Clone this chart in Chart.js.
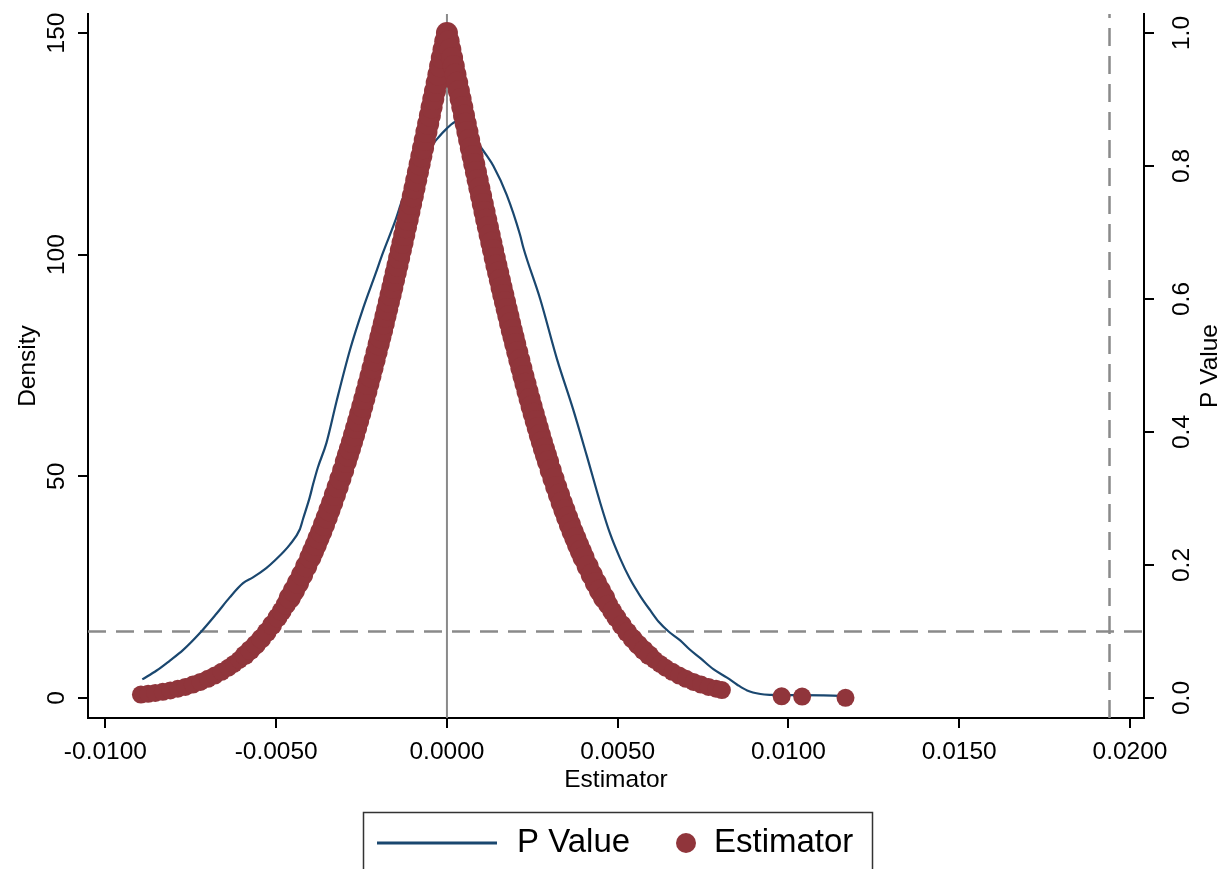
<!DOCTYPE html>
<html>
<head>
<meta charset="utf-8">
<script src="https://cdn.jsdelivr.net/npm/chart.js@4.4.1/dist/chart.umd.min.js"></script>
<style>
html,body{margin:0;padding:0;background:#fff;}
#wrap{width:1231px;height:869px;position:relative;}
</style>
</head>
<body>
<div id="wrap"><canvas id="c"></canvas></div>
<script>
// ---- tick labels ----
const xTicks = [-0.01, -0.005, 0, 0.005, 0.01, 0.015, 0.02];
const densityTicks = [0, 50, 100, 150];
const pTicks = [0, 0.2, 0.4, 0.6, 0.8, 1.0];

// ---- axis ranges ----
const xMin = -0.01051, xMax = 0.02041;
const dMin = -4.51, dMax = 154.29;
const pMin = -0.03007, pMax = 1.02860;

// ---- reference lines ----
const pThreshold = 0.1;
const refX = 0.0194;
const zeroX = 0;

// ---- "P Value" series (density curve, left axis) ----
const densX = [-0.00892,-0.00850,-0.00812,-0.00773,-0.00724,-0.00675,-0.00636,-0.00597,-0.00568,-0.00529,-0.00504,-0.00460,-0.00431,-0.00421,-0.00402,-0.00392,-0.00378,-0.00353,-0.00323,-0.00284,-0.00245,-0.00210,-0.00187,-0.00152,-0.00128,-0.00090,-0.00060,-0.00030,0.00000,0.00028,0.00060,0.00092,0.00115,0.00136,0.00175,0.00214,0.00224,0.00273,0.00322,0.00370,0.00410,0.00449,0.00478,0.00507,0.00535,0.00566,0.00595,0.00620,0.00649,0.00683,0.00710,0.00742,0.00780,0.00820,0.00850,0.00879,0.00918,0.00950,0.00985,0.01040,0.01100,0.01150,0.01172];
const densY = [4.2,6.2,8.4,10.8,14.6,19.0,22.7,25.9,27.2,29.3,31.0,34.6,38.0,40.5,45.2,48.2,52.0,57.5,67.0,78.5,88.0,95.5,100.5,107.5,113.0,119.5,123.0,126.0,128.5,130.0,128.5,125.0,122.5,120.0,113.5,104.5,101.5,90.0,76.5,65.0,54.5,44.0,37.0,31.5,27.0,23.0,19.8,17.2,15.0,13.0,11.0,9.0,6.5,4.6,3.0,1.7,0.9,0.7,0.65,0.65,0.6,0.5,0.4];

// ---- "Estimator" series (p-value of each estimate, right axis) ----
const estX = [
-0.00896,-0.00875,-0.00854,-0.00832,-0.00810,-0.00788,-0.00766,-0.00744,-0.00722,-0.00700,
-0.00680,-0.00660,-0.00640,-0.00624,-0.00608,-0.00592,-0.00576,-0.00560,-0.00544,-0.00528,
-0.00512,-0.00496,-0.00484,-0.00472,-0.00460,-0.00448,-0.00436,-0.00424,-0.00412,-0.00400,
-0.00392,-0.00384,-0.00376,-0.00368,-0.00360,-0.00352,-0.00344,-0.00336,-0.00328,-0.00320,
-0.00312,-0.00304,-0.00296,-0.00290,-0.00284,-0.00278,-0.00272,-0.00266,-0.00260,-0.00254,
-0.00248,-0.00242,-0.00236,-0.00230,-0.00224,-0.00218,-0.00212,-0.00206,-0.00200,-0.00195,
-0.00190,-0.00185,-0.00180,-0.00175,-0.00170,-0.00165,-0.00160,-0.00155,-0.00150,-0.00145,
-0.00140,-0.00135,-0.00130,-0.00125,-0.00120,-0.00115,-0.00110,-0.00105,-0.00100,-0.00095,
-0.00090,-0.00085,-0.00080,-0.00075,-0.00070,-0.00065,-0.00060,-0.00055,-0.00050,-0.00045,
-0.00040,-0.00035,-0.00030,-0.00025,-0.00020,-0.00015,-0.00010,-0.00005,0.00000,
0.00005,0.00010,0.00015,0.00020,0.00025,0.00030,0.00035,0.00040,0.00045,0.00050,
0.00055,0.00060,0.00065,0.00070,0.00075,0.00080,0.00085,0.00090,0.00095,0.00100,
0.00105,0.00110,0.00115,0.00120,0.00125,0.00130,0.00135,0.00140,0.00145,0.00150,
0.00155,0.00160,0.00165,0.00170,0.00175,0.00180,0.00185,0.00190,0.00195,0.00200,
0.00206,0.00212,0.00218,0.00224,0.00230,0.00236,0.00242,0.00248,0.00254,0.00260,
0.00266,0.00272,0.00278,0.00284,0.00290,0.00296,0.00304,0.00312,0.00320,0.00328,
0.00336,0.00344,0.00352,0.00360,0.00368,0.00376,0.00384,0.00392,0.00400,0.00412,
0.00424,0.00436,0.00448,0.00460,0.00472,0.00484,0.00496,0.00512,0.00528,0.00544,
0.00560,0.00576,0.00592,0.00608,0.00624,0.00640,0.00660,0.00680,0.00700,0.00722,
0.00744,0.00766,0.00788,0.00805,
0.00980,0.01040,0.01167];
const estP = [
0.0051,0.0063,0.0077,0.0093,0.0114,0.0139,0.0167,0.0202,0.0242,0.0288,
0.0337,0.0394,0.0455,0.0512,0.0574,0.0643,0.0719,0.0801,0.0891,0.0989,
0.1096,0.1211,0.1305,0.1404,0.1507,0.1615,0.1731,0.1853,0.1980,0.2113,
0.2207,0.2301,0.2401,0.2501,0.2607,0.2713,0.2825,0.2937,0.3055,0.3173,
0.3297,0.3421,0.3551,0.3649,0.3749,0.3851,0.3953,0.4060,0.4166,0.4274,
0.4385,0.4496,0.4610,0.4724,0.4839,0.4958,0.5078,0.5198,0.5321,0.5424,
0.5527,0.5633,0.5739,0.5845,0.5954,0.6062,0.6171,0.6282,0.6394,0.6505,
0.6618,0.6732,0.6846,0.6962,0.7078,0.7193,0.7310,0.7429,0.7547,0.7666,
0.7786,0.7906,0.8026,0.8148,0.8269,0.8391,0.8513,0.8636,0.8759,0.8882,
0.9006,0.9129,0.9253,0.9377,0.9502,0.9626,0.9751,0.9875,1.0000,
0.9875,0.9751,0.9626,0.9502,0.9377,0.9253,0.9129,0.9006,0.8882,0.8759,
0.8636,0.8513,0.8391,0.8269,0.8148,0.8026,0.7906,0.7786,0.7666,0.7547,
0.7429,0.7310,0.7193,0.7078,0.6962,0.6846,0.6732,0.6618,0.6505,0.6394,
0.6282,0.6171,0.6062,0.5954,0.5845,0.5739,0.5633,0.5527,0.5424,0.5321,
0.5198,0.5078,0.4958,0.4839,0.4724,0.4610,0.4496,0.4385,0.4274,0.4166,
0.4060,0.3953,0.3851,0.3749,0.3649,0.3551,0.3421,0.3297,0.3173,0.3055,
0.2937,0.2825,0.2713,0.2607,0.2501,0.2401,0.2301,0.2207,0.2113,0.1980,
0.1853,0.1731,0.1615,0.1507,0.1404,0.1305,0.1211,0.1096,0.0989,0.0891,
0.0801,0.0719,0.0643,0.0574,0.0512,0.0455,0.0394,0.0337,0.0288,0.0242,
0.0202,0.0167,0.0139,0.0119,
0.0025,0.0022,0.0003];

const FONT = '"Liberation Sans", Arial, Helvetica, sans-serif';
const NAVY = '#1a476f';
const MAROON = '#90353b';
const GRAY = '#8a8a8a';

Chart.defaults.font.family = FONT;
Chart.defaults.color = '#000';

const pts = (xs, ys) => xs.map((x, i) => ({x: x, y: ys[i]}));

const extras = {
  id: 'extras',
  afterDraw(chart) {
    const ctx = chart.ctx;
    const y1 = chart.scales.y1;
    // right axis title (reads bottom-to-top like the left one)
    ctx.save();
    ctx.fillStyle = '#000';
    ctx.font = '24.5px ' + FONT;
    ctx.textAlign = 'center';
    ctx.textBaseline = 'middle';
    ctx.translate(y1.right - 21, (y1.top + y1.bottom) / 2);
    ctx.rotate(-Math.PI / 2);
    ctx.fillText('P Value', 0, 0);
    ctx.restore();

    // legend box
    const ds = chart.data.datasets;
    ctx.save();
    ctx.strokeStyle = '#333';
    ctx.lineWidth = 1.5;
    ctx.strokeRect(363.5, 812.5, 509, 80);
    const cy = 843;
    ctx.strokeStyle = NAVY;
    ctx.lineWidth = 3;
    ctx.beginPath();
    ctx.moveTo(377, cy);
    ctx.lineTo(497, cy);
    ctx.stroke();
    ctx.fillStyle = '#000';
    ctx.font = '33px ' + FONT;
    ctx.textAlign = 'left';
    ctx.textBaseline = 'middle';
    ctx.fillText(ds[1].label, 517, cy);
    ctx.fillStyle = MAROON;
    ctx.beginPath();
    ctx.arc(686, cy, 10, 0, Math.PI * 2);
    ctx.fill();
    ctx.fillStyle = '#000';
    ctx.fillText(ds[0].label, 714, cy);
    ctx.restore();
  }
};

new Chart(document.getElementById('c'), {
  type: 'scatter',
  data: {
    datasets: [
      {
        label: 'Estimator',
        data: pts(estX, estP),
        xAxisID: 'x', yAxisID: 'y1',
        showLine: false,
        pointBackgroundColor: MAROON,
        pointBorderWidth: 0,
        pointRadius: (c) => { const p = c.raw ? c.raw.y : 0; return p > 0.15 ? 11 : (p > 0.06 ? 10 : 9); },
        order: 0
      },
      {
        label: 'P Value',
        data: pts(densX, densY),
        xAxisID: 'x', yAxisID: 'y',
        showLine: true,
        borderColor: NAVY,
        borderWidth: 2.2,
        pointRadius: 0,
        cubicInterpolationMode: 'monotone',
        order: 1
      },
      {
        label: 'zero',
        data: [{x: zeroX, y: pMin}, {x: zeroX, y: pMax}],
        xAxisID: 'x', yAxisID: 'y1',
        showLine: true, borderColor: GRAY, borderWidth: 2, pointRadius: 0,
        order: 2
      },
      {
        label: 'pthr',
        data: [{x: xMin, y: pThreshold}, {x: xMax, y: pThreshold}],
        xAxisID: 'x', yAxisID: 'y1',
        showLine: true, borderColor: GRAY, borderWidth: 2.5, borderDash: [18, 10], pointRadius: 0,
        order: 2
      },
      {
        label: 'refx',
        data: [{x: refX, y: pMin}, {x: refX, y: pMax}],
        xAxisID: 'x', yAxisID: 'y1',
        showLine: true, borderColor: GRAY, borderWidth: 2.5, borderDash: [18, 10], pointRadius: 0,
        order: 2
      }
    ]
  },
  options: {
    responsive: true,
    maintainAspectRatio: false,
    animation: false,
    devicePixelRatio: 1,
    layout: { padding: { top: 14, bottom: 69, left: 0, right: 0 } },
    plugins: { legend: { display: false }, tooltip: { enabled: false } },
    events: [],
    scales: {
      x: {
        type: 'linear', position: 'bottom', min: xMin, max: xMax,
        afterBuildTicks: (s) => { s.ticks = xTicks.map(v => ({value: v})); },
        afterFit: (s) => { s.height = 82; s.paddingLeft = 0; s.paddingRight = 0; },
        ticks: { autoSkip: false, maxRotation: 0, minRotation: 0, padding: 10, color: '#000',
                 font: { size: 24.5 }, callback: (v) => Number(v).toFixed(4) },
        grid: { display: true, drawOnChartArea: false, drawTicks: true, tickLength: 10, color: '#000', lineWidth: 2 },
        border: { display: true, color: '#000', width: 2 },
        title: { display: true, text: 'Estimator', color: '#000', font: { size: 24.5 }, padding: { top: 0, bottom: 4.6 } }
      },
      y: {
        type: 'linear', position: 'left', min: dMin, max: dMax,
        afterBuildTicks: (s) => { s.ticks = densityTicks.map(v => ({value: v})); },
        afterFit: (s) => { s.width = 88; s.paddingTop = 0; s.paddingBottom = 0; },
        ticks: { autoSkip: false, minRotation: 90, maxRotation: 90, crossAlign: 'center', padding: 0,
                 color: '#000', font: { size: 24.5 }, callback: (v) => String(v) },
        grid: { display: true, drawOnChartArea: false, drawTicks: true, tickLength: 10, color: '#000', lineWidth: 2 },
        border: { display: true, color: '#000', width: 2 },
        title: { display: true, text: 'Density', color: '#000', font: { size: 24.5 }, padding: { top: 13.6, bottom: 0 } }
      },
      y1: {
        type: 'linear', position: 'right', min: pMin, max: pMax,
        afterBuildTicks: (s) => { s.ticks = pTicks.map(v => ({value: v})); },
        afterFit: (s) => { s.width = 87; s.paddingTop = 0; s.paddingBottom = 0; },
        ticks: { autoSkip: false, minRotation: 90, maxRotation: 90, crossAlign: 'center', padding: 11,
                 color: '#000', font: { size: 24.5 }, callback: (v) => Number(v).toFixed(1) },
        grid: { display: true, drawOnChartArea: false, drawTicks: true, tickLength: 10, color: '#000', lineWidth: 2 },
        border: { display: true, color: '#000', width: 2 },
        title: { display: false }
      }
    }
  },
  plugins: [extras]
});
</script>
</body>
</html>
